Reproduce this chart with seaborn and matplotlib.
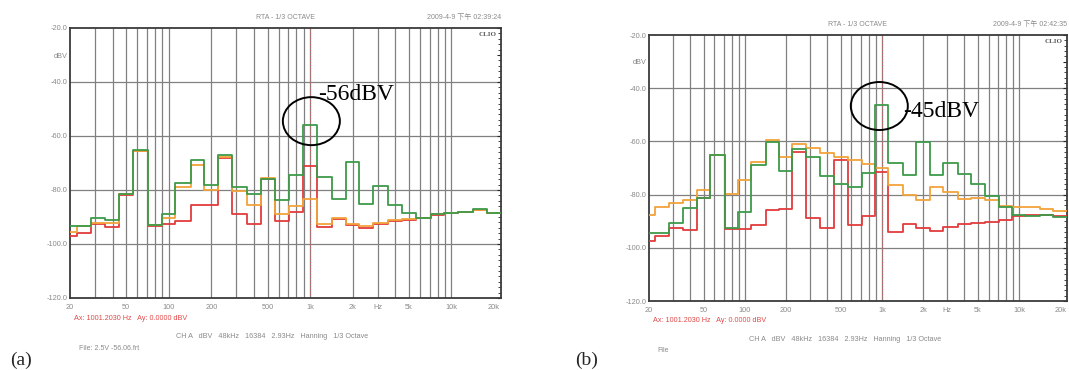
import numpy as np
import pandas as pd
import matplotlib
matplotlib.use("Agg")
import matplotlib.pyplot as plt
import seaborn as sns
from matplotlib.patches import Ellipse

# 1/3 octave band centres (Hz)
bands = [20, 25, 31.5, 40, 50, 63, 80, 100, 125, 160, 200, 250, 315, 400, 500, 630, 800,
         1000, 1250, 1600, 2000, 2500, 3150, 4000, 5000, 6300, 8000, 10000, 12500, 16000, 20000]

# panel (a) levels, dBV
a_green = [-93.5, -93.5, -90.5, -91, -81.5, -65, -93, -89, -77.4, -68.8, -78,
           -67.2, -79, -81.5, -76, -83.8, -74.5,
           -56, -75, -83.5, -69.8, -85, -78.4, -85.7, -88.7, -90.3, -89, -88.4, -88.2, -87.2, -88.4]
a_orange = [-95.5, -93.5, -92.3, -92.3, -81.6, -65.5, -93, -90.5, -78.8, -70.7, -80,
            -67.7, -80.5, -85.5, -75.6, -89, -86,
            -83.5, -92.7, -90.3, -92.5, -93.2, -92.2, -91.2, -90.8, -90.3, -89, -88.5, -88.3, -87.3, -88.5]
a_red = [-97, -95.8, -92.7, -93.7, -81.7, -65.7, -93.2, -92.7, -91.5, -85.7, -85.6,
         -68.2, -89, -92.5, -75.9, -91.5, -88,
         -71, -93.6, -90.6, -93, -93.9, -92.5, -91.5, -91, -90.5, -89.2, -88.5, -88.3, -87.4, -88.5]

# panel (b) levels, dBV
b_green = [-94.5, -94.3, -90.5, -85.2, -81.2, -65.1, -92.7, -86.7, -68.8, -60.4, -71.3,
           -63, -66, -73, -76, -77, -72,
           -46.3, -68.2, -72.6, -60.1, -72.5, -68.2, -72.3, -76, -80.7, -84.8, -87.5, -88, -87.6, -88.3]
b_orange = [-87.6, -84.5, -83.2, -82, -78.2, -65, -79.8, -74.4, -67.6, -59.4, -65.7,
            -61, -62.5, -64.5, -66, -67, -68.5,
            -70, -76.3, -80.1, -82, -77, -79.1, -81.6, -81.3, -82, -84.1, -84.5, -84.5, -85.3, -86.3]
b_red = [-97.4, -95.7, -92.4, -93.2, -81.2, -65.3, -92.9, -92.9, -91.6, -85.7, -85.3,
         -64, -88.8, -92.6, -67, -91.3, -88.2,
         -71.5, -93.9, -91.1, -92.6, -93.5, -92, -91.1, -90.7, -90.3, -89.5, -88.2, -87.6, -87.5, -88]

xtick_pos = [20, 50, 100, 200, 500, 1000, 2000, 3000, 5000, 10000, 20000]
xtick_lab = ["20", "50", "100", "200", "500", "1k", "2k", "Hz", "5k", "10k", "20k"]
ytick_pos = [-20, -30, -40, -60, -80, -100, -120]
ytick_lab = ["-20.0", "dBV", "-40.0", "-60.0", "-80.0", "-100.0", "-120.0"]

colors = {"red": "#e23b3b", "orange": "#f2a33a", "green": "#3d9a4a"}
gray = "#8a8a8a"

sns.set_style("white")
plt.rcParams["font.family"] = ["Liberation Sans", "Noto Sans CJK SC", "DejaVu Sans"]


def make_df(green, orange, red):
    # steps start at each band's lower edge (centre / 2^(1/6))
    lower = np.array(bands) / 2 ** (1 / 6)
    edges = np.append(lower, bands[-1] * 2 ** (1 / 6))
    rows = []
    for name, vals in [("red", red), ("orange", orange), ("green", green)]:
        v = list(vals) + [vals[-1]]
        for e, y in zip(edges, v):
            rows.append({"freq": e, "level": y, "trace": name})
    return pd.DataFrame(rows)


W, H = 1069, 370
fig = plt.figure(figsize=(W / 100, H / 100), dpi=100)


def px(x0, y_top, w, h):
    return [x0 / W, (H - y_top - h) / H, w / W, h / H]


panels = [
    dict(rect=px(70, 28, 431, 270), df=make_df(a_green, a_orange, a_red),
         date="2009-4-9 下午 02:39:24", file="File: 2.5V -56.06.frt",
         note="-56dBV", circle=(0.56, 0.655), text_at=(0.575, 0.755)),
    dict(rect=px(649, 35, 418, 266), df=make_df(b_green, b_orange, b_red),
         date="2009-4-9 下午 02:42:35", file="File",
         note="-45dBV", circle=(0.551, 0.733), text_at=(0.609, 0.713)),
]

grid_f = list(range(30, 100, 10)) + list(range(100, 1000, 100)) + list(range(1000, 11000, 1000))

for p in panels:
    ax = fig.add_axes(p["rect"])
    ax.set_xscale("log")
    for f in grid_f:
        ax.axvline(f, color="#808080", lw=0.9, zorder=0)
    for yv in [-40, -60, -80, -100]:
        ax.axhline(yv, color="#808080", lw=0.9, zorder=0)
    # cursor
    ax.axvline(1000, color="#e06060", lw=0.8, ls=":", zorder=1)

    sns.lineplot(data=p["df"], x="freq", y="level", hue="trace",
                 hue_order=["red", "orange", "green"], palette=colors,
                 drawstyle="steps-post", estimator=None, sort=False,
                 legend=False, lw=1.3, ax=ax, zorder=3)

    ax.set_xlim(20, 22400)
    ax.set_ylim(-120, -20)
    ax.set_xticks(xtick_pos)
    ax.set_xticklabels(xtick_lab)
    ax.xaxis.set_minor_locator(matplotlib.ticker.NullLocator())
    ax.set_yticks(ytick_pos)
    ax.set_yticklabels(ytick_lab)
    ax.set_yticks(np.arange(-120, -19, 2), minor=True)
    ax.tick_params(axis="x", length=0, labelsize=5.3, labelcolor=gray, pad=4)
    ax.tick_params(axis="y", which="major", length=3, direction="in", labelsize=5.3,
                   labelcolor=gray, right=True, pad=2)
    ax.tick_params(axis="y", which="minor", length=2, direction="in", right=True)
    ax.set_xlabel("")
    ax.set_ylabel("")
    for s in ax.spines.values():
        s.set_color("#3a3a3a")
        s.set_linewidth(1.3)

    ax.text(0.5, 1.025, "RTA - 1/3 OCTAVE", transform=ax.transAxes, ha="center",
            va="bottom", fontsize=5, color=gray)
    ax.text(1.0, 1.025, p["date"], transform=ax.transAxes, ha="right", va="bottom",
            fontsize=5, color=gray)
    ax.text(0.99, 0.985, "CLIO", transform=ax.transAxes, ha="right", va="top",
            fontsize=5, fontweight="bold", family="Liberation Serif", color="#555555")
    ax.text(0.01, -0.062, "Ax: 1001.2030 Hz   Ay: 0.0000 dBV", transform=ax.transAxes,
            ha="left", va="top", fontsize=5.2, color="#e04a4a")
    ax.text(0.47, -0.13, "CH A   dBV   48kHz   16384   2.93Hz   Hanning   1/3 Octave",
            transform=ax.transAxes, ha="center", va="top", fontsize=5.2, color=gray)
    ax.text(0.02, -0.173, p["file"], transform=ax.transAxes, ha="left", va="top",
            fontsize=5, color=gray)

    # circled peak with its level
    ax.add_patch(Ellipse(p["circle"], width=57 / ax.bbox.width, height=48 / ax.bbox.height,
                         transform=ax.transAxes, fill=False, lw=1.4, color="black", zorder=5))
    ax.text(*p["text_at"], p["note"], transform=ax.transAxes, ha="left", va="center",
            fontsize=17, family="Liberation Serif", color="black", zorder=6)

fig.text(10 / W, 1 - 360 / H, "(a)", ha="left", va="center", fontsize=14, family="Liberation Serif")
fig.text(575 / W, 1 - 360 / H, "(b)", ha="left", va="center", fontsize=14, family="Liberation Serif")

fig.savefig("out.png", dpi=100)
